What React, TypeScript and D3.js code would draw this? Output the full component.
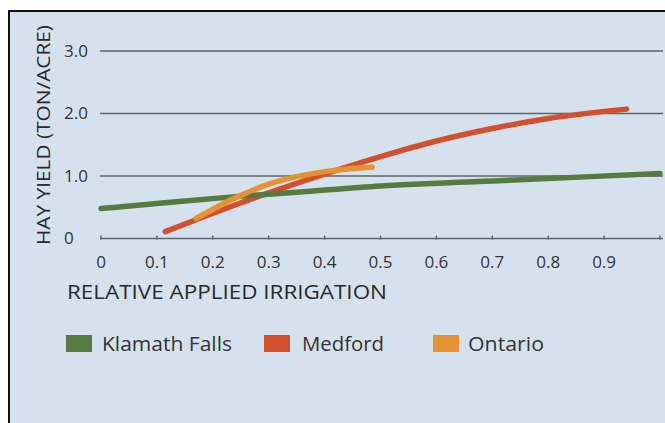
import { useEffect, useRef } from "react";
import * as d3 from "d3";

// values (relative applied irrigation -> hay yield, ton/acre)
const klamathX = [0, 0.1, 0.24, 0.35, 0.5, 0.75, 1.0];
const klamathY = [0.48, 0.56, 0.67, 0.74, 0.84, 0.94, 1.04];

const medfordX = [0.115, 0.17, 0.3, 0.4, 0.5, 0.6, 0.7, 0.8, 0.94];
const medfordY = [0.11, 0.3, 0.73, 1.03, 1.31, 1.56, 1.76, 1.92, 2.07];

const ontarioX = [0.17, 0.245, 0.3, 0.35, 0.4, 0.45, 0.485];
const ontarioY = [0.32, 0.67, 0.87, 0.99, 1.07, 1.12, 1.14];

const xTicks = [0, 0.1, 0.2, 0.3, 0.4, 0.5, 0.6, 0.7, 0.8, 0.9];
const xTickLabels = ["0", "0.1", "0.2", "0.3", "0.4", "0.5", "0.6", "0.7", "0.8", "0.9"];
const yTicks = [0, 1, 2, 3];
const yTickLabels = ["0", "1.0", "2.0", "3.0"];

const seriesNames = ["Klamath Falls", "Medford", "Ontario"];
const seriesColors = ["#567b40", "#d3502e", "#e49233"];

const font = "'Open Sans', 'DejaVu Sans', sans-serif";

export default function App() {
  const ref = useRef<SVGSVGElement>(null);

  useEffect(() => {
    if (!ref.current) return;
    const svg = d3.select(ref.current);
    svg.selectAll("*").remove();

    // panel
    svg
      .append("rect")
      .attr("x", 9)
      .attr("y", 11)
      .attr("width", 720)
      .attr("height", 500)
      .attr("fill", "#d5e2ed")
      .attr("stroke", "#111")
      .attr("stroke-width", 2);

    const x = d3.scaleLinear().domain([0, 1]).range([101, 660]);
    const y = d3.scaleLinear().domain([0, 3]).range([238.5, 51]);

    // grid lines
    svg
      .append("g")
      .selectAll("line")
      .data(yTicks.filter((d) => d > 0))
      .enter()
      .append("line")
      .attr("x1", 100)
      .attr("x2", 663)
      .attr("y1", (d) => y(d))
      .attr("y2", (d) => y(d))
      .attr("stroke", "#5c636b")
      .attr("stroke-width", 1.6);

    // x axis
    const xAxis = svg.append("g");
    xAxis
      .append("line")
      .attr("x1", 100)
      .attr("x2", 663)
      .attr("y1", y(0))
      .attr("y2", y(0))
      .attr("stroke", "#5c636b")
      .attr("stroke-width", 1.6);
    xAxis
      .selectAll("line.tick")
      .data([...xTicks, 1])
      .enter()
      .append("line")
      .attr("class", "tick")
      .attr("x1", (d) => x(d))
      .attr("x2", (d) => x(d))
      .attr("y1", y(0) - 3)
      .attr("y2", y(0) + 1)
      .attr("stroke", "#5c636b")
      .attr("stroke-width", 1.4);
    xAxis
      .selectAll("text")
      .data(xTicks)
      .enter()
      .append("text")
      .attr("x", (d) => x(d))
      .attr("y", 262)
      .attr("dy", "0.35em")
      .attr("text-anchor", "middle")
      .attr("font-family", font)
      .attr("font-size", 17)
      .attr("fill", "#333")
      .text((d, i) => xTickLabels[i]);

    // y tick labels
    svg
      .append("g")
      .selectAll("text")
      .data(yTicks)
      .enter()
      .append("text")
      .attr("x", 64)
      .attr("y", (d) => y(d))
      .attr("dy", "0.35em")
      .attr("font-family", font)
      .attr("font-size", 17)
      .attr("fill", "#333")
      .text((d, i) => yTickLabels[i]);

    // axis titles
    svg
      .append("text")
      .attr("transform", "translate(43,135) rotate(-90)")
      .attr("dy", "0.35em")
      .attr("text-anchor", "middle")
      .attr("font-family", font)
      .attr("font-size", 19)
      .attr("fill", "#2a2a2a")
      .attr("textLength", 220)
      .attr("lengthAdjust", "spacingAndGlyphs")
      .text("HAY YIELD (TON/ACRE)");

    svg
      .append("text")
      .attr("x", 67)
      .attr("y", 292)
      .attr("dy", "0.35em")
      .attr("font-family", font)
      .attr("font-size", 19.5)
      .attr("fill", "#2a2a2a")
      .attr("textLength", 320)
      .attr("lengthAdjust", "spacingAndGlyphs")
      .text("RELATIVE APPLIED IRRIGATION");

    // lines
    const line = d3
      .line<[number, number]>()
      .x((d) => x(d[0]))
      .y((d) => y(d[1]))
      .curve(d3.curveMonotoneX);

    const series = [
      { xs: medfordX, ys: medfordY, color: seriesColors[1] },
      { xs: klamathX, ys: klamathY, color: seriesColors[0] },
      { xs: ontarioX, ys: ontarioY, color: seriesColors[2] },
    ];

    svg
      .append("g")
      .selectAll("path")
      .data(series)
      .enter()
      .append("path")
      .attr("d", (s) => line(s.xs.map((v, i) => [v, s.ys[i]] as [number, number])))
      .attr("fill", "none")
      .attr("stroke", (s) => s.color)
      .attr("stroke-width", 5.5)
      .attr("stroke-linecap", "round");

    // legend
    const legendSwatchX = [66, 264, 433];
    const legendTextX = [102, 302, 468];
    const legendTextLen = [130, 82, 76];
    const legend = svg
      .append("g")
      .selectAll("g")
      .data(seriesNames)
      .enter()
      .append("g");
    legend
      .append("rect")
      .attr("x", (d, i) => legendSwatchX[i])
      .attr("y", 335)
      .attr("width", 26)
      .attr("height", 17)
      .attr("fill", (d, i) => seriesColors[i]);
    legend
      .append("text")
      .attr("x", (d, i) => legendTextX[i])
      .attr("y", 344)
      .attr("dy", "0.35em")
      .attr("font-family", font)
      .attr("font-size", 19.5)
      .attr("fill", "#333")
      .attr("textLength", (d, i) => legendTextLen[i])
      .attr("lengthAdjust", "spacingAndGlyphs")
      .text((d) => d);
  }, []);

  return (
    <svg
      ref={ref}
      width={665}
      height={423}
      style={{ position: "absolute", left: 0, top: 0, background: "#fff" }}
    />
  );
}
